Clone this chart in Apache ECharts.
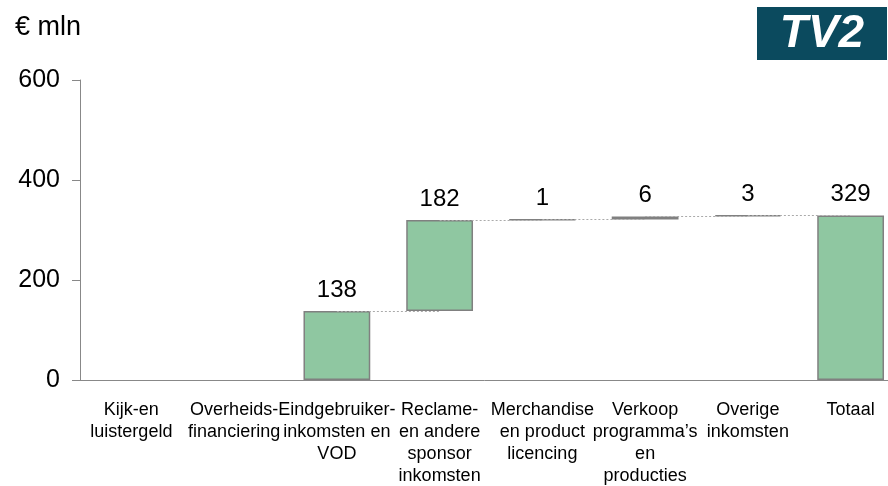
<!DOCTYPE html>
<html>
<head>
<meta charset="utf-8">
<script src="https://cdn.jsdelivr.net/npm/echarts@6/dist/echarts.min.js"></script>
<style>
  html, body { margin: 0; padding: 0; background: #fff; }
  #chart { width: 888px; height: 486px; }
</style>
</head>
<body>
<div id="chart"></div>
<script>
  // categories and values (€ mln)
  var categories = [
    'Kijk-en\nluistergeld',
    'Overheids-\nfinanciering',
    'Eindgebruiker-\ninkomsten en\nVOD',
    'Reclame-\nen andere\nsponsor\ninkomsten',
    'Merchandise\nen product\nlicencing',
    'Verkoop\nprogramma\u2019s\nen\nproducties',
    'Overige\ninkomsten',
    'Totaal'
  ]
  var values = [0, 0, 138, 182, 1, 6, 3, 329]
  var isTotal = [false, false, false, false, false, false, false, true]
  var yTicks = [0, 200, 400, 600]

  // base (invisible) part of the waterfall
  var base = []
  var shown = []
  var running = 0
  values.forEach(function (v, i) {
    if (isTotal[i]) {
      base.push(0)
    } else {
      base.push(running)
      running += v
    }
    shown.push(v === 0 ? null : v)
  })

  // connectors from the top of one bar to the next
  var connectors = []
  for (var i = 2; i < values.length - 1; i++) {
    var level = isTotal[i] ? values[i] : base[i] + values[i]
    connectors.push([{coord: [i, level]}, {coord: [i + 1, level]}])
  }

  var font = 'Liberation Sans, Arial, sans-serif'
  var chart = echarts.init(document.getElementById('chart'))
  chart.setOption({
    animation: false,
    textStyle: {fontFamily: font},
    graphic: [
      {
        type: 'text',
        left: 15,
        top: 14,
        style: {text: '\u20AC mln', fontSize: 27, fill: '#000', fontFamily: font}
      },
      {
        type: 'rect',
        shape: {x: 757, y: 7, width: 130, height: 53},
        style: {fill: '#0B4A5E'}
      },
      {
        type: 'text',
        x: 822,
        y: 34,
        style: {
          text: 'TV2',
          fontSize: 46,
          fontWeight: 'bold',
          fontStyle: 'italic',
          fill: '#fff',
          align: 'center',
          verticalAlign: 'middle',
          fontFamily: font
        }
      }
    ],
    grid: {
      left: 80,
      width: 822,
      top: 80,
      height: 300,
      outerBoundsMode: 'none',
      containLabel: false
    },
    xAxis: {
      type: 'category',
      data: categories,
      axisLine: {lineStyle: {color: '#888', width: 1}},
      axisTick: {length: 6, lineStyle: {color: '#888'}},
      axisLabel: {
        interval: 0,
        color: '#000',
        fontSize: 18,
        lineHeight: 22,
        margin: 19
      }
    },
    yAxis: {
      type: 'value',
      min: 0,
      max: 600,
      interval: 200,
      axisLine: {show: true, lineStyle: {color: '#888', width: 1}},
      axisTick: {show: true, length: 8, lineStyle: {color: '#888'}},
      splitLine: {show: false},
      axisLabel: {
        color: '#000',
        fontSize: 25,
        margin: 20,
        customValues: yTicks
      }
    },
    series: [
      {
        type: 'line',
        data: [],
        z: 1,
        silent: true,
        markLine: {
          symbol: 'none',
          silent: true,
          label: {show: false},
          lineStyle: {type: [2, 2], color: '#aaa', width: 1},
          data: connectors
        }
      },
      {
        name: 'base',
        type: 'bar',
        stack: 'wf',
        data: base,
        z: 2,
        barWidth: '65%',
        itemStyle: {color: 'transparent', borderWidth: 0},
        silent: true
      },
      {
        name: 'value',
        type: 'bar',
        stack: 'wf',
        data: shown,
        z: 3,
        barWidth: '65%',
        itemStyle: {color: '#8FC7A1', borderColor: '#808080', borderWidth: 1.5},
        label: {
          show: true,
          position: 'top',
          distance: 9,
          fontSize: 24,
          color: '#000'
        }
      }
    ]
  })
</script>
</body>
</html>
